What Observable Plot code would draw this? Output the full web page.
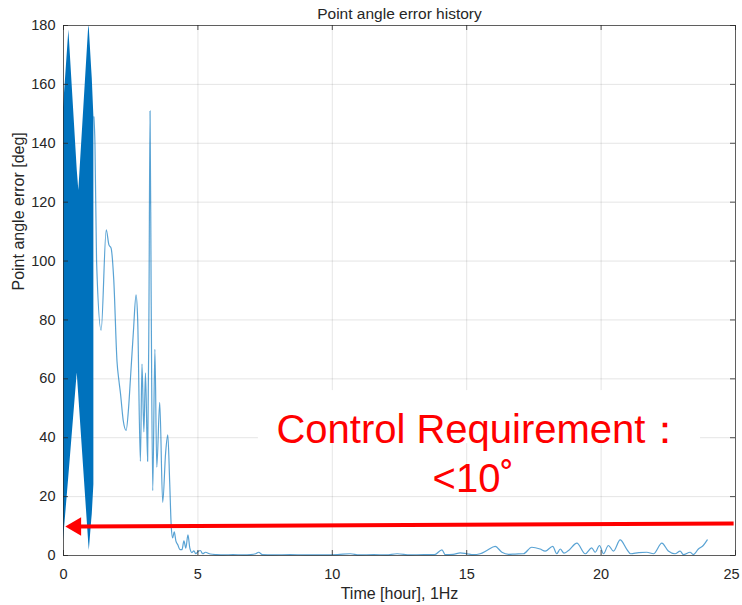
<!DOCTYPE html>
<html><head><meta charset="utf-8">
<script src="https://cdn.jsdelivr.net/npm/d3@7"></script>
<script src="https://cdn.jsdelivr.net/npm/@observablehq/plot@0.6"></script>
<style>body{margin:0;background:#fff} svg{display:block}</style>
</head><body><div id="chart"></div>
<script>
// ---- data ----
const title = "Point angle error history";
const xLabel = "Time [hour], 1Hz";
const yLabel = "Point angle error [deg]";
const xTicks = [0, 5, 10, 15, 20, 25];
const yTicks = [0, 20, 40, 60, 80, 100, 120, 140, 160, 180];

// dense oscillation envelope (first hour)
const bandTime = [0, 0.2, 0.51, 0.57, 0.94, 0.96, 1.05, 1.07, 1.13];
const bandLow  = [5, 27, 62, 54, 4, 1.7, 12, 14, 24];
const bandHigh = [152, 178.5, 131, 124, 180, 179, 165, 162, 149];

// error trace after the dense part
const lineTime = [1.13,1.17,1.23,1.40,1.59,1.69,1.77,1.87,1.99,2.06,2.12,2.22,2.33,2.42,2.49,2.60,2.70,2.76,2.86,2.92,2.99,3.05,3.13,3.18,3.22,3.26,3.32,3.40,3.47,3.58,3.69,3.80,3.88,3.95,4.01,4.06,4.12,4.18,4.26,4.33,4.41,4.48,4.55,4.63,4.70,4.78,4.85,4.92,5.00,5.09,5.18,5.28,5.46,5.70,5.96,6.30,6.70,6.95,7.15,7.26,7.40,7.80,8.44,9.00,9.68,10.2,10.67,11.0,11.54,12.0,12.41,12.9,13.40,13.8,14.08,14.2,14.5,14.76,15.01,15.25,15.50,15.75,16.06,16.31,16.56,16.8,17.11,17.42,17.73,17.92,18.20,18.35,18.48,18.62,18.79,19.10,19.41,19.65,19.78,19.94,20.09,20.27,20.46,20.71,20.95,21.10,21.40,21.70,21.95,22.26,22.50,22.75,22.94,23.06,23.31,23.43,23.62,23.80,23.95];
const lineError = [149,140,100,76.5,110.6,105.5,104.4,93.6,66,59.5,55,46,42.5,50,60,76,88.5,80,32,65,42,62,32,85,151,90,22,70,30,52,18,35,41,25,9.6,6,8,5,3.5,2,2,5,2.5,7,2.5,1,1.6,0.6,1.3,1.7,0.6,1.1,0.5,0.3,0.2,0.3,0.2,0.3,0.6,1.1,0.3,0.2,0.3,0.2,0.2,0.3,0.6,0.2,0.3,0.2,0.6,0.2,0.3,0.3,1.9,0.3,0.4,0.9,0.6,0.3,0.6,1.7,3.1,1.1,0.4,0.5,0.6,2.8,2.2,1.5,3.1,0.6,2.2,0.8,1.7,4.2,0.6,2.6,1.1,3.4,0.6,3.4,1.5,5.3,2.2,0.6,1.0,1.1,0.6,4.2,1.5,0.6,1.5,0.3,1.1,0.3,2.2,3.4,5.3];

// annotation
const noteLines = ["Control Requirement：", "<10˚"];
const noteX = [7.92, 13.73];
const noteY = [42.5, 25.8];
const boxX = [7.25, 23.7];
const boxY = [38, 56];
const arrowX = [24.93, 0.56];
const arrowY = [10.9, 9.85];
const arrowHead = {x: 0.46, y: 9.85};

// ---- tables ----
const band = bandTime.map((t, i) => ({t, low: bandLow[i], high: bandHigh[i]}));
const trace = lineTime.map((t, i) => ({t, e: lineError[i]}));
const notes = noteLines.map((s, i) => ({s, x: noteX[i], y: noteY[i]}));
const xTicksInner = xTicks.slice(0, -1);
const xTickLast = xTicks.slice(-1);

const W = 742, H = 605, mL = 63, mR = 7, mT = 25, mB = 50;
const fw = W - mL - mR, fh = H - mT - mB, tk = 5;
const axisColor = "#262626";
const blue = "#0072BD";

const chart = Plot.plot({
  width: W, height: H,
  marginLeft: mL, marginRight: mR, marginTop: mT, marginBottom: mB,
  x: {domain: [0, 25]},
  y: {domain: [0, 180]},
  style: {fontFamily: "'Liberation Sans', Arial, Helvetica, sans-serif", background: "#fff", color: axisColor},
  marks: [
    Plot.gridX(xTicks, {stroke: axisColor, strokeOpacity: 0.12}),
    Plot.gridY(yTicks, {stroke: axisColor, strokeOpacity: 0.12}),
    Plot.rect([0], {x1: () => boxX[0], x2: () => boxX[1], y1: () => boxY[0], y2: () => boxY[1], fill: "#fff"}),
    Plot.areaY(band, {x: "t", y1: "low", y2: "high", fill: blue}),
    Plot.line(trace, {x: "t", y: "e", stroke: blue, strokeWidth: 1.2, strokeOpacity: 0.65, curve: "monotone-x"}),
    Plot.frame({stroke: axisColor, strokeOpacity: 0.7}),
    Plot.tickX(xTicks, {x: d => d, insetTop: fh - tk, stroke: axisColor, strokeOpacity: 0.8}),
    Plot.tickX(xTicks, {x: d => d, insetBottom: fh - tk, stroke: axisColor, strokeOpacity: 0.8}),
    Plot.tickY(yTicks, {y: d => d, insetRight: fw - tk, stroke: axisColor, strokeOpacity: 0.8}),
    Plot.tickY(yTicks, {y: d => d, insetLeft: fw - tk, stroke: axisColor, strokeOpacity: 0.8}),
    Plot.axisX(xTicksInner, {tickSize: 0, tickPadding: 13, fontSize: 14.5, fill: axisColor, label: null}),
    Plot.axisX(xTickLast, {tickSize: 0, tickPadding: 13, fontSize: 14.5, fill: axisColor, label: null, dx: -4}),
    Plot.axisY(yTicks, {tickSize: 0, tickPadding: 8, fontSize: 14.5, fill: axisColor, label: null}),
    Plot.text([title], {frameAnchor: "top", lineAnchor: "middle", dy: -11, fontSize: 15.5, fill: axisColor}),
    Plot.text([xLabel], {frameAnchor: "bottom", lineAnchor: "middle", dy: 38, fontSize: 16, fill: axisColor}),
    Plot.text([yLabel], {frameAnchor: "left", lineAnchor: "middle", dx: -45, rotate: -90, fontSize: 16, fill: axisColor}),
    Plot.link([0], {x1: () => arrowX[0], y1: () => arrowY[0], x2: () => arrowX[1], y2: () => arrowY[1], stroke: "#ff0000", strokeWidth: 4}),
    Plot.dot([arrowHead], {x: "x", y: "y", symbol: "triangle", r: 6.8, rotate: -90, fill: "#ff0000", stroke: "none"}),
    Plot.text(notes, {x: "x", y: "y", text: "s", textAnchor: "start", fontSize: 40, fill: "#ff0000"})
  ]
});
document.getElementById("chart").appendChild(chart);
</script>
</body></html>
